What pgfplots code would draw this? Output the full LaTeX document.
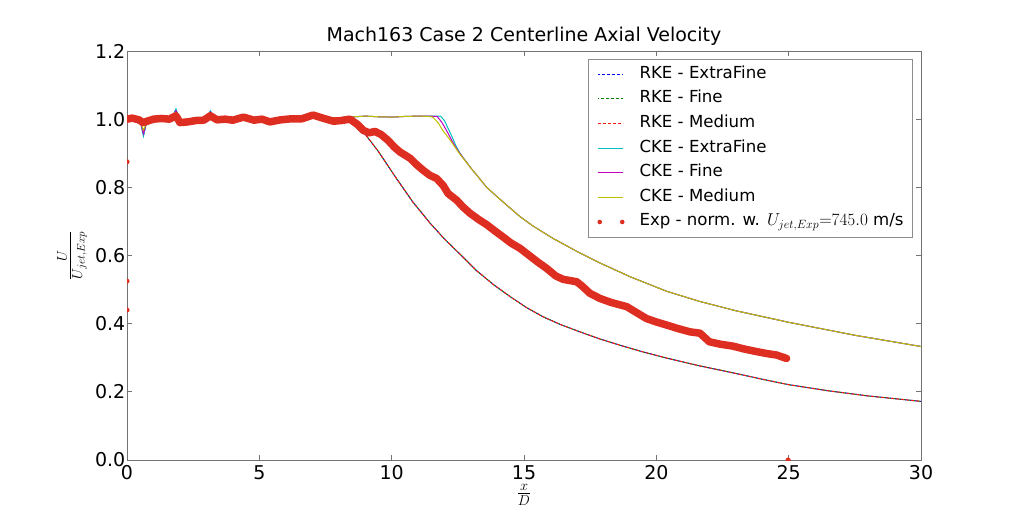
\documentclass[border=0pt]{standalone}
\usepackage{pgfplots}
\pgfplotsset{compat=1.18}
\usepackage{fontspec}
\setmainfont{DejaVu Sans}
\definecolor{mplblue}{RGB}{0,0,255}
\definecolor{mplgreen}{RGB}{0,128,0}
\definecolor{mplred}{RGB}{255,20,20}
\definecolor{mplcyan}{RGB}{0,191,191}
\definecolor{mplmag}{RGB}{191,0,191}
\definecolor{mplyel}{RGB}{191,191,0}
\definecolor{expred}{RGB}{222,45,33}
\begin{document}
\begin{tikzpicture}
\useasboundingbox (-127bp,-52bp) rectangle (897bp,460bp);
\begin{axis}[
  scale only axis, width=794bp, height=409bp,
  at={(0,0)}, anchor=south west,
  xmin=0, xmax=30, ymin=0, ymax=1.2,
  xtick={0,5,10,15,20,25,30},
  ytick={0,0.2,0.4,0.6,0.8,1.0,1.2},
  minor tick num=0,
  tick align=inside, major tick length=5bp,
  axis line style={black!55, line width=0.9bp},
  every tick/.style={black!55, line width=0.8bp},
  /pgf/number format/assume math mode=true,
  tick label style={font=\fontsize{19bp}{22bp}\selectfont},
  xticklabel style={inner sep=0pt, anchor=north, yshift=-5bp},
  yticklabel style={inner sep=0pt, anchor=east, xshift=-1.5bp,
    /pgf/number format/fixed, /pgf/number format/fixed zerofill,
    /pgf/number format/precision=1},
  title={Mach163 Case 2 Centerline Axial Velocity},
  title style={font=\fontsize{19bp}{22bp}\selectfont, at={(0.5,1)}, anchor=base, yshift=3.5bp, inner sep=0pt},
  xlabel={$\frac{x}{D}$},
  ylabel={$\frac{U}{U_{jet,Exp}}$},
  label style={font=\fontsize{21bp}{24bp}\selectfont, inner sep=0pt},
  xlabel style={at={(axis description cs:0.5,-0.0855)}, anchor=center},
  ylabel style={at={(axis description cs:-0.0693,0.5)}, anchor=center},
  clip marker paths=true,
  legend cell align=left,
  legend style={at={(1,1)}, anchor=north east, xshift=-8bp, yshift=-8bp,
    draw=black!45, line width=0.8bp,
    font=\fontsize{16.6bp}{19bp}\selectfont,
    inner xsep=9bp, inner ysep=7bp,
    row sep=8.6bp,
    nodes={inner sep=0pt, text height=12bp, text depth=4bp},
    /tikz/every odd column/.append style={column sep=15bp}},
  legend image code/.code={\draw[#1] (0bp,0bp) -- (25bp,0bp);},
]
% RKE - ExtraFine
\addplot[color=mplblue, line width=1bp, dash pattern=on 3bp off 2bp, dash phase=1bp] table {
0 1.004
0.3 1.002
0.5 0.996
0.62 0.952
0.72 0.985
0.85 1.0
1.2 1.003
1.6 1.002
1.75 1.012
1.85 1.028
1.95 1.006
2.1 0.992
2.5 0.996
2.9 1.001
3.05 1.01
3.15 1.022
3.3 1.006
3.6 1.0
4.0 0.999
4.4 1.008
4.8 0.999
5.4 0.996
5.8 1.001
6.4 1.004
7.0 1.008
7.4 1.004
7.8 1.004
8.2 1.005
8.4 1.0
8.6 0.99
8.93 0.963
9.5 0.905
10.19 0.825
10.8 0.757
11.45 0.695
12.0 0.648
12.58 0.604
13.2 0.556
13.84 0.515
14.5 0.478
15.1 0.447
15.7 0.421
16.36 0.398
17.11 0.376
17.87 0.355
18.7 0.335
19.5 0.317
20.39 0.299
21.65 0.276
23.0 0.254
24.0 0.237
25.0 0.221
26.5 0.203
28.0 0.188
30.0 0.172
};
\addlegendentry{RKE - ExtraFine}
% RKE - Fine
\addplot[color=mplgreen, line width=1bp, dash pattern=on 3bp off 2bp, dash phase=2bp] table {
0 1.004
0.3 1.002
0.5 0.996
0.62 0.960
0.72 0.985
0.85 1.0
1.2 1.003
1.6 1.002
1.75 1.012
1.85 1.024
1.95 1.006
2.1 0.992
2.5 0.996
2.9 1.001
3.05 1.01
3.15 1.020
3.3 1.006
3.6 1.0
4.0 0.999
4.4 1.008
4.8 0.999
5.4 0.996
5.8 1.001
6.4 1.004
7.0 1.008
7.4 1.004
7.8 1.004
8.2 1.005
8.4 1.0
8.6 0.99
8.93 0.963
9.5 0.905
10.19 0.825
10.8 0.757
11.45 0.695
12.0 0.648
12.58 0.604
13.2 0.556
13.84 0.515
14.5 0.478
15.1 0.447
15.7 0.421
16.36 0.398
17.11 0.376
17.87 0.355
18.7 0.335
19.5 0.317
20.39 0.299
21.65 0.276
23.0 0.254
24.0 0.237
25.0 0.221
26.5 0.203
28.0 0.188
30.0 0.172
};
\addlegendentry{RKE - Fine}
% RKE - Medium
\addplot[color=mplred, line width=1bp, dash pattern=on 3bp off 2bp, dash phase=0bp] table {
0 1.004
0.3 1.002
0.5 0.996
0.62 0.965
0.72 0.985
0.85 1.0
1.2 1.003
1.6 1.002
1.75 1.012
1.85 1.020
1.95 1.006
2.1 0.992
2.5 0.996
2.9 1.001
3.05 1.01
3.15 1.018
3.3 1.006
3.6 1.0
4.0 0.999
4.4 1.008
4.8 0.999
5.4 0.996
5.8 1.001
6.4 1.004
7.0 1.008
7.4 1.004
7.8 1.004
8.2 1.005
8.4 1.0
8.6 0.99
8.93 0.963
9.5 0.905
10.19 0.825
10.8 0.757
11.45 0.695
12.0 0.648
12.58 0.604
13.2 0.556
13.84 0.515
14.5 0.478
15.1 0.447
15.7 0.421
16.36 0.398
17.11 0.376
17.87 0.355
18.7 0.335
19.5 0.317
20.39 0.299
21.65 0.276
23.0 0.254
24.0 0.237
25.0 0.221
26.5 0.203
28.0 0.188
30.0 0.172
};
\addlegendentry{RKE - Medium}
% CKE - ExtraFine
\addplot[color=mplcyan, line width=1bp] table {
0 1.004
0.3 1.002
0.5 0.996
0.62 0.950
0.72 0.985
0.85 1.0
1.2 1.003
1.6 1.002
1.75 1.012
1.85 1.030
1.95 1.006
2.1 0.992
2.5 0.996
2.9 1.001
3.05 1.01
3.15 1.025
3.3 1.006
3.6 1.0
4.0 0.999
4.4 1.008
4.8 0.999
5.4 0.996
5.8 1.001
6.4 1.004
7.0 1.008
7.4 1.004
7.8 1.004
8.2 1.005
8.6 1.007
9.0 1.009
9.5 1.007
10.0 1.006
10.5 1.008
11.0 1.009
11.4 1.009
11.85 1.009
12.0 0.995
12.15 0.97
12.3 0.945
12.45 0.918
12.6 0.898
12.96 0.86
13.59 0.80
14.09 0.765
14.85 0.714
15.35 0.686
16.1 0.650
17.0 0.612
17.87 0.578
19.0 0.538
20.39 0.495
21.65 0.465
23.0 0.438
25.0 0.404
27.5 0.366
30.0 0.333
};
\addlegendentry{CKE - ExtraFine}
% CKE - Fine
\addplot[color=mplmag, line width=1bp] table {
0 1.004
0.3 1.002
0.5 0.996
0.62 0.957
0.72 0.985
0.85 1.0
1.2 1.003
1.6 1.002
1.75 1.012
1.85 1.025
1.95 1.006
2.1 0.992
2.5 0.996
2.9 1.001
3.05 1.01
3.15 1.021
3.3 1.006
3.6 1.0
4.0 0.999
4.4 1.008
4.8 0.999
5.4 0.996
5.8 1.001
6.4 1.004
7.0 1.008
7.4 1.004
7.8 1.004
8.2 1.005
8.6 1.007
9.0 1.009
9.5 1.007
10.0 1.006
10.5 1.008
11.0 1.009
11.4 1.009
11.72 1.008
11.9 0.99
12.05 0.97
12.2 0.948
12.4 0.92
12.58 0.899
12.96 0.86
13.59 0.80
14.09 0.765
14.85 0.714
15.35 0.686
16.1 0.650
17.0 0.612
17.87 0.578
19.0 0.538
20.39 0.495
21.65 0.465
23.0 0.438
25.0 0.404
27.5 0.366
30.0 0.333
};
\addlegendentry{CKE - Fine}
% CKE - Medium
\addplot[color=mplyel, line width=1bp] table {
0 1.004
0.3 1.002
0.5 0.996
0.62 0.968
0.72 0.985
0.85 1.0
1.2 1.003
1.6 1.002
1.75 1.012
1.85 1.020
1.95 1.006
2.1 0.992
2.5 0.996
2.9 1.001
3.05 1.01
3.15 1.017
3.3 1.006
3.6 1.0
4.0 0.999
4.4 1.008
4.8 0.999
5.4 0.996
5.8 1.001
6.4 1.004
7.0 1.008
7.4 1.004
7.8 1.004
8.2 1.005
8.6 1.007
9.0 1.009
9.5 1.007
10.0 1.006
10.5 1.008
11.0 1.009
11.4 1.008
11.55 1.006
11.75 0.99
11.95 0.965
12.15 0.945
12.33 0.925
12.58 0.897
12.96 0.86
13.59 0.80
14.09 0.765
14.85 0.714
15.35 0.686
16.1 0.650
17.0 0.612
17.87 0.578
19.0 0.538
20.39 0.495
21.65 0.465
23.0 0.438
25.0 0.404
27.5 0.366
30.0 0.333
};
\addlegendentry{CKE - Medium}
% Experiment
\addplot[color=expred, line width=7.5bp, line cap=round, line join=round,
  legend image code/.code={\path[fill=expred, draw=none] (1.5bp,0bp) circle (2.3bp); \path[fill=expred, draw=none] (24bp,0bp) circle (2.3bp);}] table {
0.0 1.0
0.2 1.003
0.45 0.998
0.6 0.99
0.8 0.995
1.0 1.0
1.3 1.002
1.6 1.0
1.85 1.01
2.0 0.99
2.3 0.992
2.6 0.996
2.9 0.997
3.15 1.01
3.4 0.998
3.7 1.0
4.0 0.997
4.4 1.006
4.8 0.997
5.1 1.0
5.4 0.992
5.8 0.998
6.2 1.001
6.6 1.001
7.03 1.012
7.4 1.003
7.8 0.994
8.1 0.996
8.42 1.0
8.7 0.985
8.93 0.967
9.15 0.96
9.37 0.964
9.6 0.955
9.86 0.938
10.1 0.918
10.31 0.904
10.7 0.885
10.95 0.866
11.19 0.85
11.45 0.835
11.7 0.826
11.95 0.805
12.13 0.782
12.46 0.762
12.7 0.742
12.96 0.724
13.3 0.705
13.6 0.69
13.9 0.672
14.2 0.655
14.5 0.637
14.85 0.621
15.1 0.606
15.5 0.582
15.86 0.562
16.2 0.54
16.48 0.53
16.99 0.523
17.2 0.51
17.49 0.489
17.87 0.474
18.3 0.462
18.88 0.45
19.2 0.435
19.63 0.415
20.0 0.405
20.39 0.396
20.8 0.386
21.27 0.376
21.65 0.372
22.0 0.347
22.4 0.34
22.9 0.334
23.3 0.326
23.79 0.318
24.2 0.312
24.54 0.308
24.92 0.298
};
\addlegendentry{Exp - norm. w. \(U_{jet,Exp}{=}745.0\) m/s}
\addplot[only marks, mark=*, mark size=2.3bp, color=expred, forget plot] table {
0 0.875
0 0.525
0 0.44
24.98 0.0
};
\end{axis}
\end{tikzpicture}
\end{document}
